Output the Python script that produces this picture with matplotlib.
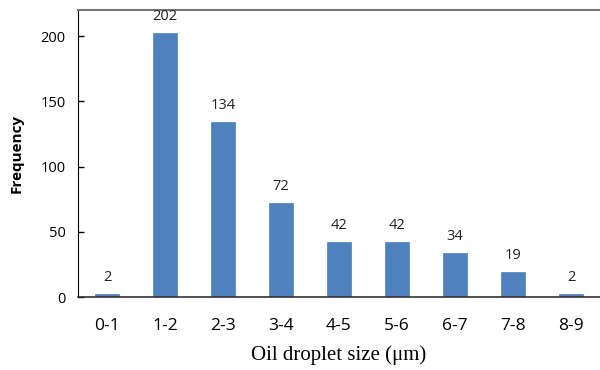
import numpy as np
import matplotlib
matplotlib.use('Agg')
from matplotlib import pyplot as plt

# 数据
categories = ['0-1', '1-2', '2-3', '3-4', '4-5', '5-6', '6-7', '7-8', '8-9']
frequency = [2, 202, 134, 72, 42, 42, 34, 19, 2]

fig = plt.figure(figsize=(6, 3.7), dpi=100)
ax = fig.add_axes([0.13, 0.197, 0.87, 0.776])

x = np.arange(len(categories))
bars = ax.bar(x, frequency, width=0.4, color='#4F81BD', edgecolor='#4F81BD', linewidth=0.5)
for xi, v in zip(x, frequency):
    ax.text(xi, v + 7, str(v), ha='center', va='bottom', fontsize=10.5,
            family='Open Sans', color='#222222')

ax.set_xlim(-0.5, 8.5)
ax.set_ylim(0, 220)
ax.set_yticks([0, 50, 100, 150, 200])
ax.set_xticks(x)
ax.set_xticklabels(categories, fontsize=12.5, family='Open Sans')
for lab in ax.get_yticklabels():
    lab.set_family('Open Sans')
    lab.set_fontsize(10.5)
ax.tick_params(axis='y', direction='in', length=4, width=1, pad=9)
ax.tick_params(axis='x', length=0, pad=15)

ax.spines['right'].set_visible(False)
ax.spines['top'].set_color('#777777')
ax.spines['top'].set_linewidth(1.5)
ax.spines['left'].set_color('black')
ax.spines['bottom'].set_color('#333333')
ax.spines['bottom'].set_linewidth(1.2)

ax.set_ylabel('Frequency', fontsize=11, fontweight='bold', family='Open Sans', labelpad=12)
ax.set_xlabel('Oil droplet size (μm)', fontsize=15, family='Liberation Serif', labelpad=8)

fig.savefig('out.png', dpi=100)
